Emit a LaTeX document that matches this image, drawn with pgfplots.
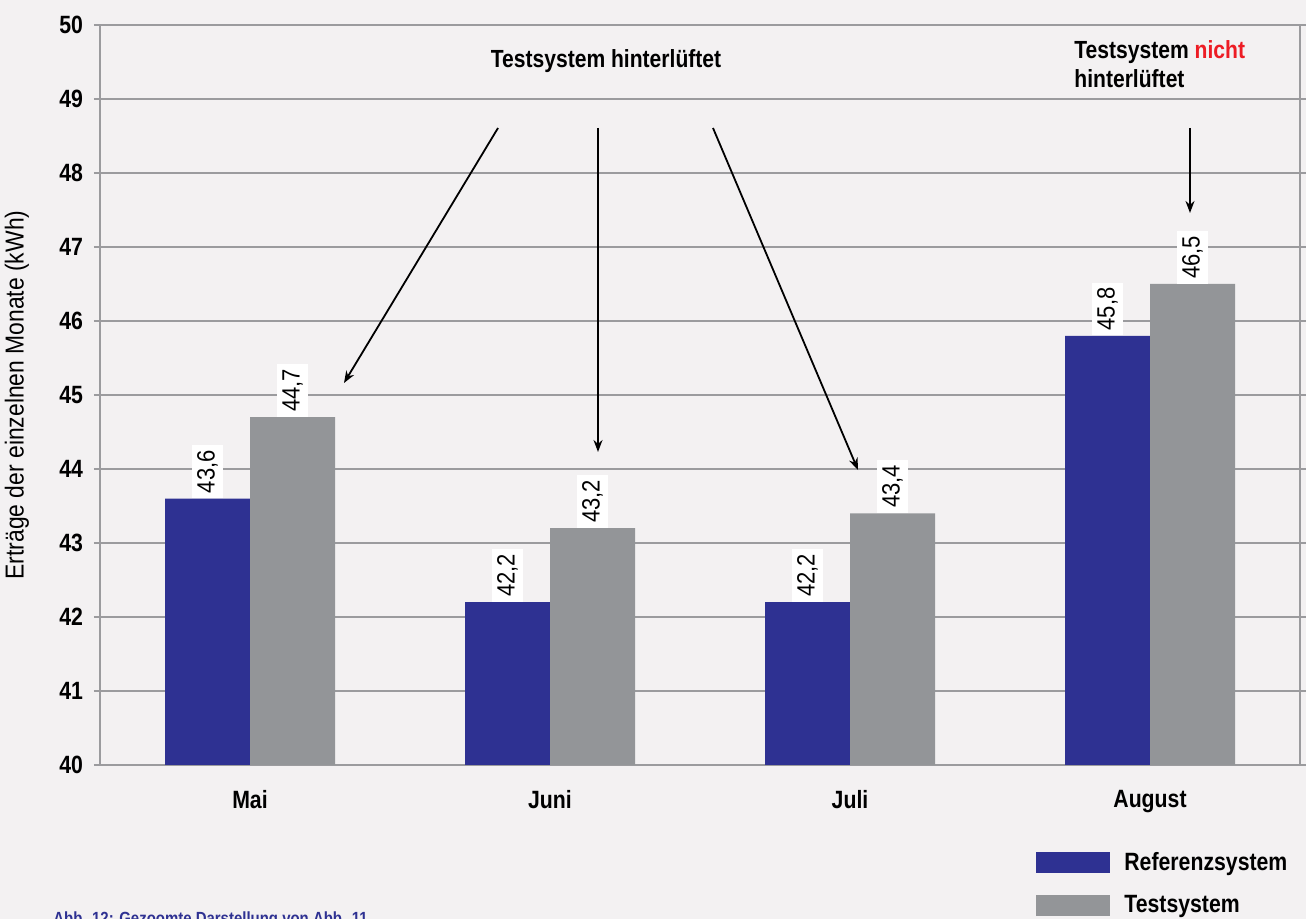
\documentclass[border=0pt]{standalone}
\usepackage{fontspec}
\setmainfont[FakeStretch=0.88]{Liberation Sans}
\newfontfamily\cb[FakeStretch=0.85]{Liberation Sans Bold}
\usepackage{pgfplots}
\pgfplotsset{compat=1.18}
\usetikzlibrary{arrows.meta}

\definecolor{refblue}{RGB}{46,49,146}
\definecolor{testgray}{RGB}{147,149,152}
\definecolor{bg}{RGB}{243,241,242}
\definecolor{gridgray}{RGB}{155,155,158}
\definecolor{nichtred}{RGB}{237,28,36}

\begin{document}
\begin{tikzpicture}
  \path[use as bounding box, fill=bg] (0,0) rectangle (653pt,459.5pt);
  \begin{axis}[
    at={(50pt,77pt)}, anchor=south west,
    scale only axis, width=600pt, height=370pt,
    xmin=-0.5, xmax=3.5, ymin=40, ymax=50,
    ybar=0pt, bar width=42.5pt,
    xtick={0,1,2,3}, xticklabels={Mai,Juni,Juli,August},
    x tick style={draw=none},
    ytick={40,41,...,50},
    ymajorgrids, grid style={gridgray, line width=0.9pt},
    axis line style={gridgray, line width=0.9pt},
    y tick style={gridgray, line width=0.9pt},
    tick align=outside, major tick length=3pt,
    tick label style={font=\cb\fontsize{12.5}{15}\selectfont},
    xticklabel style={yshift=-6pt},
    yticklabel style={xshift=-2pt},
    /pgf/number format/assume math mode=true,
    ylabel={Erträge der einzelnen Monate (kWh)},
    ylabel style={at={(axis description cs:-0.0692,0.5)}, anchor=center, font=\fontsize{13}{15}\selectfont},
    nodes near coords={\pgfmathprintnumber[use comma,fixed,fixed zerofill,precision=1]{\pgfplotspointmeta}},
    every node near coord/.append style={rotate=90, anchor=west, fill=white, inner sep=2.5pt, font=\fontsize{12.5}{15}\selectfont},
    legend image code/.code={\fill[#1] (0pt,-5.25pt) rectangle (37pt,5.25pt);},
    legend style={at={(rel axis cs:0.775,-0.1068)}, anchor=north west, draw=none, fill=none,
      font=\cb\fontsize{12.5}{15}\selectfont, row sep=7pt, column sep=5pt},
    legend cell align=left,
  ]
    \addplot[fill=refblue, draw=none] coordinates {(0,43.6) (1,42.2) (2,42.2) (3,45.8)};
    \addplot[fill=testgray, draw=none] coordinates {(0,44.7) (1,43.2) (2,43.4) (3,46.5)};
    \legend{Referenzsystem, Testsystem}

    \node[font=\cb\fontsize{12.4}{14.5}\selectfont] at (axis cs:1.1867,49.514) {Testsystem hinterlüftet};
    \node[anchor=north west, align=left, inner sep=0pt, font=\cb\fontsize{12.4}{14.5}\selectfont]
      at (axis cs:2.7467,49.80) {Testsystem \textcolor{nichtred}{nicht}\\hinterlüftet};
    \begin{scope}[-{Stealth[length=6pt, width=4.5pt]}, line width=0.9pt]
      \draw (axis cs:0.8267,48.608) -- (axis cs:0.3133,45.162);
      \draw (axis cs:1.16,48.608) -- (axis cs:1.16,44.23);
      \draw (axis cs:1.5433,48.608) -- (axis cs:2.0267,43.986);
      \draw (axis cs:3.1333,48.608) -- (axis cs:3.1333,47.46);
    \end{scope}
  \end{axis}
  \node[anchor=north west, inner sep=0pt, text=refblue, font=\cb\fontsize{8.8}{10}\selectfont]
    at (26.5pt,4pt) {Abb. 12: Gezoomte Darstellung von Abb. 11};
\end{tikzpicture}
\end{document}
